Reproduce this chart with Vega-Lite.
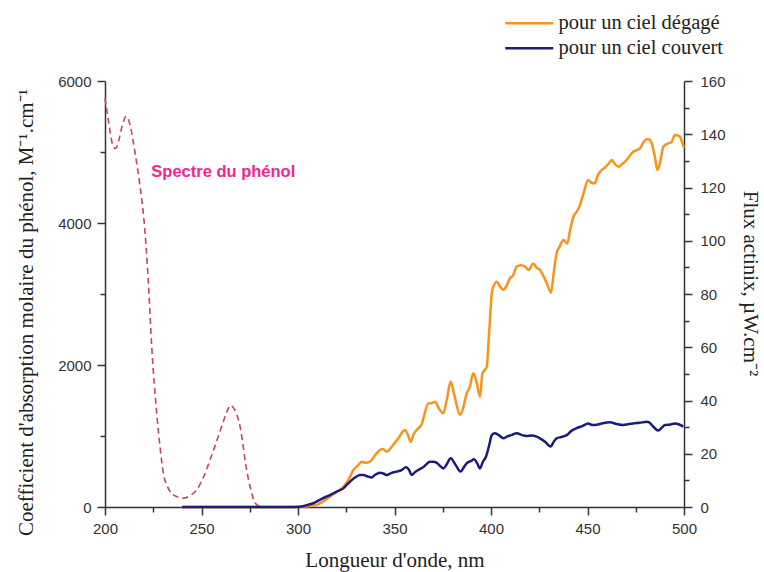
{
  "$schema": "https://vega.github.io/schema/vega-lite/v6.json",
  "width": 579,
  "height": 426,
  "autosize": {"type": "none"},
  "padding": {"left": 105, "top": 81, "right": 80, "bottom": 65},
  "background": "white",
  "config": {
    "view": {"stroke": null},
    "axis": {
      "labelFont": "Liberation Sans",
      "labelFontSize": 15,
      "labelColor": "#333333",
      "labelFlush": false,
      "labelOverlap": false,
      "titleFont": "Liberation Serif",
      "titleFontSize": 21,
      "titleFontWeight": "normal",
      "titleColor": "#222222",
      "domainColor": "#333333",
      "domainWidth": 1.5,
      "tickColor": "#333333",
      "tickWidth": 1.5,
      "grid": false
    }
  },
  "datasets": {
    "phenol": [
      {"nm": 200, "eps": 5760},
      {"nm": 202, "eps": 5400},
      {"nm": 204, "eps": 5100},
      {"nm": 205.5, "eps": 5050},
      {"nm": 207, "eps": 5150},
      {"nm": 209, "eps": 5380},
      {"nm": 211, "eps": 5500},
      {"nm": 213, "eps": 5380},
      {"nm": 215.5, "eps": 5000},
      {"nm": 218, "eps": 4550},
      {"nm": 220, "eps": 4100},
      {"nm": 222.4, "eps": 3200},
      {"nm": 224.2, "eps": 2260},
      {"nm": 226.8, "eps": 1320},
      {"nm": 228.5, "eps": 850},
      {"nm": 230.2, "eps": 480},
      {"nm": 232.5, "eps": 280},
      {"nm": 235.4, "eps": 170},
      {"nm": 240.6, "eps": 125},
      {"nm": 244, "eps": 160},
      {"nm": 247.5, "eps": 240},
      {"nm": 251, "eps": 420},
      {"nm": 254.4, "eps": 660},
      {"nm": 257.5, "eps": 900},
      {"nm": 260.4, "eps": 1130},
      {"nm": 263, "eps": 1330},
      {"nm": 265, "eps": 1430},
      {"nm": 267, "eps": 1380},
      {"nm": 270, "eps": 1130},
      {"nm": 273.4, "eps": 520},
      {"nm": 275.5, "eps": 250},
      {"nm": 277.7, "eps": 60},
      {"nm": 280, "eps": 10},
      {"nm": 282, "eps": 0},
      {"nm": 288, "eps": 0}
    ],
    "label": [
      {"nm": 224, "eps": 4720, "text": "Spectre du phénol"}
    ],
    "flux": [
      {"series": "pour un ciel dégagé", "nm": 240, "flux": 0},
      {"series": "pour un ciel dégagé", "nm": 270, "flux": 0},
      {"series": "pour un ciel dégagé", "nm": 295, "flux": 0},
      {"series": "pour un ciel dégagé", "nm": 301, "flux": 0.1},
      {"series": "pour un ciel dégagé", "nm": 305, "flux": 0.3},
      {"series": "pour un ciel dégagé", "nm": 309.7, "flux": 0.8},
      {"series": "pour un ciel dégagé", "nm": 313, "flux": 2},
      {"series": "pour un ciel dégagé", "nm": 316.6, "flux": 3.9},
      {"series": "pour un ciel dégagé", "nm": 320, "flux": 5.6},
      {"series": "pour un ciel dégagé", "nm": 323.5, "flux": 7.6},
      {"series": "pour un ciel dégagé", "nm": 326, "flux": 10},
      {"series": "pour un ciel dégagé", "nm": 328.7, "flux": 13.9},
      {"series": "pour un ciel dégagé", "nm": 331, "flux": 15.5},
      {"series": "pour un ciel dégagé", "nm": 333, "flux": 17},
      {"series": "pour un ciel dégagé", "nm": 335, "flux": 16.6},
      {"series": "pour un ciel dégagé", "nm": 337.3, "flux": 17},
      {"series": "pour un ciel dégagé", "nm": 340, "flux": 19.5},
      {"series": "pour un ciel dégagé", "nm": 342.5, "flux": 21.4},
      {"series": "pour un ciel dégagé", "nm": 344, "flux": 21.8},
      {"series": "pour un ciel dégagé", "nm": 346, "flux": 20.8},
      {"series": "pour un ciel dégagé", "nm": 349, "flux": 23},
      {"series": "pour un ciel dégagé", "nm": 352, "flux": 25.8},
      {"series": "pour un ciel dégagé", "nm": 355.4, "flux": 28.9},
      {"series": "pour un ciel dégagé", "nm": 357, "flux": 27},
      {"series": "pour un ciel dégagé", "nm": 358.4, "flux": 24.5},
      {"series": "pour un ciel dégagé", "nm": 360, "flux": 27.5},
      {"series": "pour un ciel dégagé", "nm": 361.5, "flux": 28.9},
      {"series": "pour un ciel dégagé", "nm": 364, "flux": 31},
      {"series": "pour un ciel dégagé", "nm": 367.5, "flux": 38.9},
      {"series": "pour un ciel dégagé", "nm": 369, "flux": 39},
      {"series": "pour un ciel dégagé", "nm": 371, "flux": 39.5},
      {"series": "pour un ciel dégagé", "nm": 373, "flux": 37},
      {"series": "pour un ciel dégagé", "nm": 375.3, "flux": 35.2},
      {"series": "pour un ciel dégagé", "nm": 377, "flux": 40},
      {"series": "pour un ciel dégagé", "nm": 379.1, "flux": 47.1},
      {"series": "pour un ciel dégagé", "nm": 381, "flux": 42},
      {"series": "pour un ciel dégagé", "nm": 384, "flux": 34.6},
      {"series": "pour un ciel dégagé", "nm": 385.5, "flux": 37},
      {"series": "pour un ciel dégagé", "nm": 387.4, "flux": 42.7},
      {"series": "pour un ciel dégagé", "nm": 389, "flux": 45},
      {"series": "pour un ciel dégagé", "nm": 390.8, "flux": 50.2},
      {"series": "pour un ciel dégagé", "nm": 392.5, "flux": 47},
      {"series": "pour un ciel dégagé", "nm": 394.3, "flux": 41.4},
      {"series": "pour un ciel dégagé", "nm": 395.5, "flux": 50},
      {"series": "pour un ciel dégagé", "nm": 397.8, "flux": 52.7},
      {"series": "pour un ciel dégagé", "nm": 399, "flux": 65},
      {"series": "pour un ciel dégagé", "nm": 400.4, "flux": 80},
      {"series": "pour un ciel dégagé", "nm": 401.2, "flux": 82.7},
      {"series": "pour un ciel dégagé", "nm": 403, "flux": 84.6},
      {"series": "pour un ciel dégagé", "nm": 404.5, "flux": 83},
      {"series": "pour un ciel dégagé", "nm": 406.4, "flux": 81.5},
      {"series": "pour un ciel dégagé", "nm": 408, "flux": 83},
      {"series": "pour un ciel dégagé", "nm": 409.8, "flux": 85.9},
      {"series": "pour un ciel dégagé", "nm": 411.5, "flux": 87},
      {"series": "pour un ciel dégagé", "nm": 413.3, "flux": 90.3},
      {"series": "pour un ciel dégagé", "nm": 415.5, "flux": 90.8},
      {"series": "pour un ciel dégagé", "nm": 417.6, "flux": 90.3},
      {"series": "pour un ciel dégagé", "nm": 419.5, "flux": 89},
      {"series": "pour un ciel dégagé", "nm": 421.9, "flux": 91.5},
      {"series": "pour un ciel dégagé", "nm": 423.5, "flux": 90},
      {"series": "pour un ciel dégagé", "nm": 425.4, "flux": 89},
      {"series": "pour un ciel dégagé", "nm": 427, "flux": 87},
      {"series": "pour un ciel dégagé", "nm": 428.9, "flux": 84},
      {"series": "pour un ciel dégagé", "nm": 430, "flux": 82},
      {"series": "pour un ciel dégagé", "nm": 431.1, "flux": 80.5},
      {"series": "pour un ciel dégagé", "nm": 432.5, "flux": 88},
      {"series": "pour un ciel dégagé", "nm": 434, "flux": 95.3},
      {"series": "pour un ciel dégagé", "nm": 435.7, "flux": 98},
      {"series": "pour un ciel dégagé", "nm": 437.5, "flux": 100.3},
      {"series": "pour un ciel dégagé", "nm": 439.5, "flux": 99},
      {"series": "pour un ciel dégagé", "nm": 441, "flux": 104},
      {"series": "pour un ciel dégagé", "nm": 442.7, "flux": 109},
      {"series": "pour un ciel dégagé", "nm": 444.5, "flux": 111},
      {"series": "pour un ciel dégagé", "nm": 446.1, "flux": 113.4},
      {"series": "pour un ciel dégagé", "nm": 448, "flux": 118},
      {"series": "pour un ciel dégagé", "nm": 450.4, "flux": 122.8},
      {"series": "pour un ciel dégagé", "nm": 452, "flux": 121.8},
      {"series": "pour un ciel dégagé", "nm": 453.9, "flux": 121.6},
      {"series": "pour un ciel dégagé", "nm": 455, "flux": 124},
      {"series": "pour un ciel dégagé", "nm": 456.5, "flux": 125.9},
      {"series": "pour un ciel dégagé", "nm": 459, "flux": 127.5},
      {"series": "pour un ciel dégagé", "nm": 461, "flux": 129},
      {"series": "pour un ciel dégagé", "nm": 462.5, "flux": 130.3},
      {"series": "pour un ciel dégagé", "nm": 464, "flux": 129},
      {"series": "pour un ciel dégagé", "nm": 466, "flux": 127.8},
      {"series": "pour un ciel dégagé", "nm": 467.5, "flux": 128.5},
      {"series": "pour un ciel dégagé", "nm": 469.4, "flux": 129.7},
      {"series": "pour un ciel dégagé", "nm": 471.5, "flux": 131.5},
      {"series": "pour un ciel dégagé", "nm": 473.7, "flux": 133.4},
      {"series": "pour un ciel dégagé", "nm": 475.5, "flux": 134},
      {"series": "pour un ciel dégagé", "nm": 477.2, "flux": 134.7},
      {"series": "pour un ciel dégagé", "nm": 479, "flux": 137},
      {"series": "pour un ciel dégagé", "nm": 480.7, "flux": 138.1},
      {"series": "pour un ciel dégagé", "nm": 482, "flux": 138},
      {"series": "pour un ciel dégagé", "nm": 483.3, "flux": 136.6},
      {"series": "pour un ciel dégagé", "nm": 484.8, "flux": 132},
      {"series": "pour un ciel dégagé", "nm": 486.2, "flux": 126.6},
      {"series": "pour un ciel dégagé", "nm": 487.5, "flux": 129},
      {"series": "pour un ciel dégagé", "nm": 489.3, "flux": 135.3},
      {"series": "pour un ciel dégagé", "nm": 491.9, "flux": 136.6},
      {"series": "pour un ciel dégagé", "nm": 493.5, "flux": 137},
      {"series": "pour un ciel dégagé", "nm": 495.3, "flux": 139.7},
      {"series": "pour un ciel dégagé", "nm": 497.9, "flux": 139.1},
      {"series": "pour un ciel dégagé", "nm": 499, "flux": 137},
      {"series": "pour un ciel dégagé", "nm": 500, "flux": 135},
      {"series": "pour un ciel couvert", "nm": 240, "flux": 0},
      {"series": "pour un ciel couvert", "nm": 270, "flux": 0},
      {"series": "pour un ciel couvert", "nm": 295, "flux": 0},
      {"series": "pour un ciel couvert", "nm": 301, "flux": 0.1},
      {"series": "pour un ciel couvert", "nm": 304, "flux": 0.6},
      {"series": "pour un ciel couvert", "nm": 307.9, "flux": 1.4},
      {"series": "pour un ciel couvert", "nm": 312, "flux": 3},
      {"series": "pour un ciel couvert", "nm": 316.6, "flux": 4.5},
      {"series": "pour un ciel couvert", "nm": 320, "flux": 5.8},
      {"series": "pour un ciel couvert", "nm": 323.5, "flux": 7},
      {"series": "pour un ciel couvert", "nm": 325.5, "flux": 8.5},
      {"series": "pour un ciel couvert", "nm": 327.8, "flux": 10.1},
      {"series": "pour un ciel couvert", "nm": 330, "flux": 11.3},
      {"series": "pour un ciel couvert", "nm": 332.1, "flux": 12},
      {"series": "pour un ciel couvert", "nm": 334, "flux": 12},
      {"series": "pour un ciel couvert", "nm": 336, "flux": 11.5},
      {"series": "pour un ciel couvert", "nm": 338.2, "flux": 11.1},
      {"series": "pour un ciel couvert", "nm": 340, "flux": 12.1},
      {"series": "pour un ciel couvert", "nm": 342.5, "flux": 12.9},
      {"series": "pour un ciel couvert", "nm": 344.5, "flux": 12.5},
      {"series": "pour un ciel couvert", "nm": 346, "flux": 12},
      {"series": "pour un ciel couvert", "nm": 348.5, "flux": 12.8},
      {"series": "pour un ciel couvert", "nm": 351.1, "flux": 13.3},
      {"series": "pour un ciel couvert", "nm": 353.5, "flux": 13.8},
      {"series": "pour un ciel couvert", "nm": 356, "flux": 14.9},
      {"series": "pour un ciel couvert", "nm": 357.5, "flux": 14},
      {"series": "pour un ciel couvert", "nm": 358.9, "flux": 12},
      {"series": "pour un ciel couvert", "nm": 360.5, "flux": 13},
      {"series": "pour un ciel couvert", "nm": 362.3, "flux": 13.9},
      {"series": "pour un ciel couvert", "nm": 365, "flux": 15},
      {"series": "pour un ciel couvert", "nm": 368.4, "flux": 17},
      {"series": "pour un ciel couvert", "nm": 370, "flux": 17},
      {"series": "pour un ciel couvert", "nm": 371.9, "flux": 16.6},
      {"series": "pour un ciel couvert", "nm": 373.5, "flux": 15.5},
      {"series": "pour un ciel couvert", "nm": 375.3, "flux": 14.5},
      {"series": "pour un ciel couvert", "nm": 377, "flux": 16},
      {"series": "pour un ciel couvert", "nm": 379.1, "flux": 18.3},
      {"series": "pour un ciel couvert", "nm": 381.5, "flux": 16},
      {"series": "pour un ciel couvert", "nm": 384.3, "flux": 13.3},
      {"series": "pour un ciel couvert", "nm": 386, "flux": 15},
      {"series": "pour un ciel couvert", "nm": 387.4, "flux": 16.4},
      {"series": "pour un ciel couvert", "nm": 389.5, "flux": 17.2},
      {"series": "pour un ciel couvert", "nm": 391.2, "flux": 17.9},
      {"series": "pour un ciel couvert", "nm": 392.8, "flux": 16.5},
      {"series": "pour un ciel couvert", "nm": 394.3, "flux": 14.5},
      {"series": "pour un ciel couvert", "nm": 395.8, "flux": 17},
      {"series": "pour un ciel couvert", "nm": 397.4, "flux": 18.9},
      {"series": "pour un ciel couvert", "nm": 399, "flux": 23},
      {"series": "pour un ciel couvert", "nm": 400.4, "flux": 27},
      {"series": "pour un ciel couvert", "nm": 402, "flux": 27.7},
      {"series": "pour un ciel couvert", "nm": 404, "flux": 27},
      {"series": "pour un ciel couvert", "nm": 406.4, "flux": 25.8},
      {"series": "pour un ciel couvert", "nm": 408.5, "flux": 26.5},
      {"series": "pour un ciel couvert", "nm": 410.5, "flux": 27},
      {"series": "pour un ciel couvert", "nm": 413.3, "flux": 27.7},
      {"series": "pour un ciel couvert", "nm": 416, "flux": 27},
      {"series": "pour un ciel couvert", "nm": 418.5, "flux": 26.7},
      {"series": "pour un ciel couvert", "nm": 421, "flux": 26.9},
      {"series": "pour un ciel couvert", "nm": 423.7, "flux": 26.4},
      {"series": "pour un ciel couvert", "nm": 426, "flux": 25.5},
      {"series": "pour un ciel couvert", "nm": 428, "flux": 24.5},
      {"series": "pour un ciel couvert", "nm": 430.9, "flux": 22.7},
      {"series": "pour un ciel couvert", "nm": 432.5, "flux": 24.5},
      {"series": "pour un ciel couvert", "nm": 434, "flux": 25.8},
      {"series": "pour un ciel couvert", "nm": 436.5, "flux": 26.3},
      {"series": "pour un ciel couvert", "nm": 439.2, "flux": 27},
      {"series": "pour un ciel couvert", "nm": 441.5, "flux": 28.5},
      {"series": "pour un ciel couvert", "nm": 444.4, "flux": 29.6},
      {"series": "pour un ciel couvert", "nm": 447.5, "flux": 30.5},
      {"series": "pour un ciel couvert", "nm": 450.4, "flux": 31.4},
      {"series": "pour un ciel couvert", "nm": 452, "flux": 30.9},
      {"series": "pour un ciel couvert", "nm": 453.9, "flux": 30.8},
      {"series": "pour un ciel couvert", "nm": 457, "flux": 31.3},
      {"series": "pour un ciel couvert", "nm": 461.7, "flux": 31.8},
      {"series": "pour un ciel couvert", "nm": 465, "flux": 31.2},
      {"series": "pour un ciel couvert", "nm": 468.6, "flux": 30.8},
      {"series": "pour un ciel couvert", "nm": 471, "flux": 31.1},
      {"series": "pour un ciel couvert", "nm": 473.7, "flux": 31.4},
      {"series": "pour un ciel couvert", "nm": 477, "flux": 31.6},
      {"series": "pour un ciel couvert", "nm": 480.7, "flux": 32},
      {"series": "pour un ciel couvert", "nm": 482, "flux": 31.8},
      {"series": "pour un ciel couvert", "nm": 483.3, "flux": 30.8},
      {"series": "pour un ciel couvert", "nm": 485, "flux": 29.5},
      {"series": "pour un ciel couvert", "nm": 486.7, "flux": 28.7},
      {"series": "pour un ciel couvert", "nm": 488.5, "flux": 29.8},
      {"series": "pour un ciel couvert", "nm": 490.2, "flux": 30.8},
      {"series": "pour un ciel couvert", "nm": 493, "flux": 31},
      {"series": "pour un ciel couvert", "nm": 495.3, "flux": 31.4},
      {"series": "pour un ciel couvert", "nm": 497.5, "flux": 31},
      {"series": "pour un ciel couvert", "nm": 499.6, "flux": 30.2}
    ]
  },
  "layer": [
    {
      "layer": [
        {
          "data": {"name": "phenol"},
          "mark": {"type": "line", "color": "#c4475a", "strokeWidth": 1.6, "strokeDash": [6, 4], "interpolate": "monotone"},
          "encoding": {
            "x": {"field": "nm", "type": "quantitative"},
            "y": {"field": "eps", "type": "quantitative"}
          }
        },
        {
          "data": {"name": "label"},
          "mark": {"type": "text", "align": "left", "baseline": "middle", "font": "Liberation Sans", "fontSize": 16.5, "fontWeight": "bold", "color": "#f7238f"},
          "encoding": {
            "x": {"field": "nm", "type": "quantitative"},
            "y": {"field": "eps", "type": "quantitative"},
            "text": {"field": "text"}
          }
        }
      ],
      "encoding": {
        "x": {
          "field": "nm", "type": "quantitative",
          "scale": {"domain": [200, 500], "nice": false, "zero": false},
          "axis": {
            "title": "Longueur d'onde, nm",
            "values": [200, 225, 250, 275, 300, 325, 350, 375, 400, 425, 450, 475, 500],
            "labelExpr": "datum.value % 50 === 0 ? datum.label : ''",
            "tickSize": {"condition": {"test": "datum.value % 50 !== 0", "value": 5}, "value": 8},
            "labelPadding": 6,
            "titleY": 53,
            "titleBaseline": "middle"
          }
        },
        "y": {
          "field": "eps", "type": "quantitative",
          "scale": {"domain": [0, 6000], "nice": false},
          "axis": {
            "title": "Coefficient d'absorption molaire du phénol, M⁻¹.cm⁻¹",
            "orient": "left",
            "values": [0, 1000, 2000, 3000, 4000, 5000, 6000],
            "labelExpr": "datum.value % 2000 === 0 ? datum.label : ''",
            "tickSize": {"condition": {"test": "datum.value % 2000 !== 0", "value": 5}, "value": 8},
            "format": "d",
            "labelPadding": 6,
            "titleX": -79,
            "titleY": 231,
            "titleBaseline": "middle",
            "titleAngle": -90
          }
        }
      }
    },
    {
      "data": {"name": "flux"},
      "mark": {"type": "line", "strokeWidth": 2.5, "interpolate": "monotone"},
      "encoding": {
        "x": {
          "field": "nm", "type": "quantitative",
          "scale": {"domain": [200, 500], "nice": false, "zero": false},
          "axis": {
            "title": "Longueur d'onde, nm",
            "values": [200, 225, 250, 275, 300, 325, 350, 375, 400, 425, 450, 475, 500],
            "labelExpr": "datum.value % 50 === 0 ? datum.label : ''",
            "tickSize": {"condition": {"test": "datum.value % 50 !== 0", "value": 5}, "value": 8},
            "labelPadding": 6,
            "titleY": 53,
            "titleBaseline": "middle"
          }
        },
        "y": {
          "field": "flux", "type": "quantitative",
          "scale": {"domain": [0, 160], "nice": false},
          "axis": {
            "title": "Flux actinix, µW.cm⁻²",
            "orient": "right",
            "values": [0, 10, 20, 30, 40, 50, 60, 70, 80, 90, 100, 110, 120, 130, 140, 150, 160],
            "labelExpr": "datum.value % 20 === 0 ? datum.label : ''",
            "tickSize": {"condition": {"test": "datum.value % 20 !== 0", "value": 5}, "value": 8},
            "labelPadding": 8,
            "titleX": 65,
            "titleY": 202,
            "titleBaseline": "middle",
            "titleAngle": 90
          }
        },
        "color": {
          "field": "series", "type": "nominal",
          "scale": {"domain": ["pour un ciel dégagé", "pour un ciel couvert"], "range": ["#f7941d", "#1c1c7c"]},
          "legend": {
            "title": null,
            "orient": "none",
            "legendX": 414,
            "legendY": -68,
            "padding": 0,
            "symbolType": "M-3,0H3",
            "symbolSize": 256,
            "symbolStrokeWidth": 2.5,
            "labelFont": "Liberation Serif",
            "labelFontSize": 20.5,
            "labelColor": "#222222",
            "labelOffset": 19,
            "labelLimit": 400,
            "rowPadding": 4
          }
        }
      }
    }
  ],
  "resolve": {"scale": {"y": "independent"}, "axis": {"y": "independent"}}
}
